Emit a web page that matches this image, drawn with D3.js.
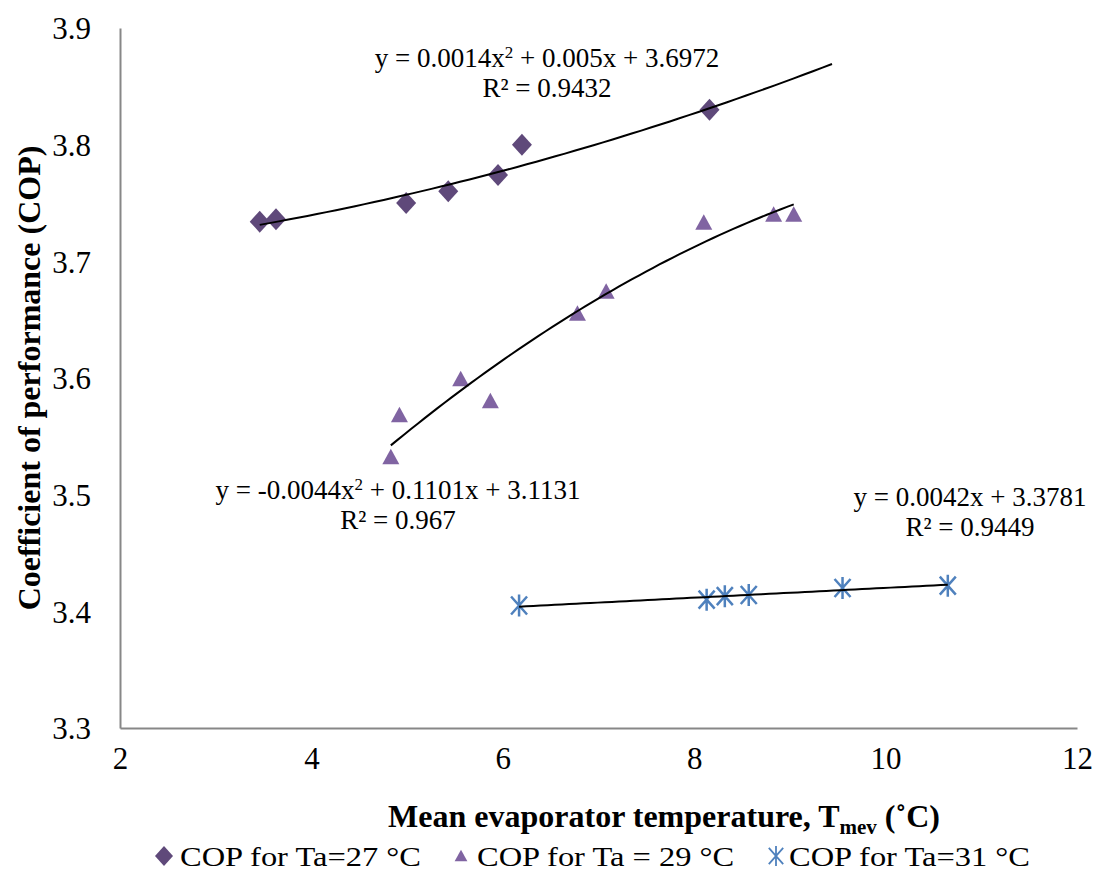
<!DOCTYPE html>
<html>
<head>
<meta charset="utf-8">
<script src="https://cdn.jsdelivr.net/npm/d3@7"></script>
<style>
  body { margin: 0; background: #fff; }
  text { font-family: "Liberation Serif", "Times New Roman", serif; fill: #000; }
</style>
</head>
<body>
<div id="container"></div>
<script>
'use strict';

// --- data ---
var temp27 = [3.46, 3.63, 4.99, 5.43, 5.95, 6.20, 8.16];
var cop27  = [3.734, 3.736, 3.750, 3.760, 3.774, 3.800, 3.830];

var temp29 = [4.83, 4.92, 5.56, 5.87, 6.78, 7.08, 8.10, 8.83, 9.04];
var cop29  = [3.532, 3.568, 3.599, 3.580, 3.655, 3.674, 3.733, 3.740, 3.740];

var temp31 = [6.17, 8.13, 8.32, 8.57, 9.55, 10.65];
var cop31  = [3.405, 3.410, 3.413, 3.414, 3.420, 3.422];

// trendline coefficients (a x^2 + b x + c) and drawn x range
var fit27 = [0.0014, 0.005, 3.6972],   fitRange27 = [3.46, 9.44];
var fit29 = [-0.0044, 0.1101, 3.1131], fitRange29 = [4.83, 9.04];
var fit31 = [0, 0.0042, 3.3781],       fitRange31 = [6.17, 10.65];

var xTicks = [2, 4, 6, 8, 10, 12];
var yTicks = [3.3, 3.4, 3.5, 3.6, 3.7, 3.8, 3.9];

var legendNames = ['COP for Ta=27 °C', 'COP for Ta = 29 °C', 'COP for Ta=31 °C'];

// --- chart ---
var chart = {};
chart.width = 1103;
chart.height = 873;
chart.margin = {top: 28, right: 26, bottom: 145, left: 120};

var svg = d3.select('#container').append('svg')
  .attr('width', chart.width)
  .attr('height', chart.height);

var x = d3.scaleLinear().domain([2, 12])
  .range([chart.margin.left, chart.width - chart.margin.right]);
var y = d3.scaleLinear().domain([3.3, 3.9])
  .range([chart.height - chart.margin.bottom, chart.margin.top]);

/* ------- AXES -------*/
var xAxis = svg.append('g')
  .attr('transform', 'translate(0,' + y(3.3) + ')')
  .call(d3.axisBottom(x).tickValues(xTicks).tickSize(0).tickPadding(22));
var yAxis = svg.append('g')
  .attr('transform', 'translate(' + x(2) + ',0)')
  .call(d3.axisLeft(y).tickValues(yTicks).tickSize(0).tickPadding(29).tickFormat(d3.format('.1f')));

[xAxis, yAxis].forEach(function(a) {
  a.attr('font-family', null).attr('font-size', null);
  a.select('.domain').attr('stroke', '#878787').attr('stroke-width', 2);
  a.selectAll('text')
    .style('font-family', '"Liberation Serif", serif')
    .style('font-size', '31px')
    .attr('fill', '#000');
});
yAxis.selectAll('text').attr('dy', '0.35em');
xAxis.selectAll('text').attr('dy', '0.62em');

/* ------- TRENDLINES -------*/
function curve(fit, range) {
  var pts = d3.range(0, 61).map(function(i) {
    var t = range[0] + (range[1] - range[0]) * i / 60;
    return [t, fit[0] * t * t + fit[1] * t + fit[2]];
  });
  return d3.line().x(function(d) { return x(d[0]); }).y(function(d) { return y(d[1]); })(pts);
}

var lines = svg.append('g').attr('class', 'lines');
[[fit27, fitRange27], [fit29, fitRange29], [fit31, fitRange31]].forEach(function(f) {
  lines.append('path')
    .attr('d', curve(f[0], f[1]))
    .attr('fill', 'none')
    .attr('stroke', '#000')
    .attr('stroke-width', 2);
});

/* ------- MARKERS -------*/
var diamond = 'M0,-11L10,0L0,11L-10,0Z';
var triangle = 'M0,-8.5L8.5,7L-8.5,7Z';
var star = 'M0,-11V11M-8,-9L8,9M-8,9L8,-9';

function drawMarkers(xs, ys, shape, color, isStroke) {
  var g = svg.append('g');
  g.selectAll('path').data(xs).enter().append('path')
    .attr('transform', function(d, i) { return 'translate(' + x(d) + ',' + y(ys[i]) + ')'; })
    .attr('d', shape)
    .attr('fill', isStroke ? 'none' : color)
    .attr('stroke', isStroke ? color : 'none')
    .attr('stroke-width', isStroke ? 2.5 : 0);
}
drawMarkers(temp27, cop27, diamond, '#5F497A', false);
drawMarkers(temp29, cop29, triangle, '#8064A2', false);
drawMarkers(temp31, cop31, star, '#4F81BD', true);
lines.raise();

/* ------- EQUATION LABELS -------*/
function eqLabel(cx, cy, parts, r2) {
  var t = svg.append('text').attr('x', cx).attr('y', cy)
    .attr('text-anchor', 'middle').style('font-size', '27px');
  parts.forEach(function(p) {
    var s = t.append('tspan').text(p[0]);
    if (p[1]) s.attr('baseline-shift', 'super').style('font-size', '17px');
  });
  svg.append('text').attr('x', cx).attr('y', cy + 30)
    .attr('text-anchor', 'middle').style('font-size', '27px').text(r2);
}
eqLabel(547, 67, [['y = 0.0014x'], ['2', true], [' + 0.005x + 3.6972']], 'R² = 0.9432');
eqLabel(398, 499, [['y = -0.0044x'], ['2', true], [' + 0.1101x + 3.1131']], 'R² = 0.967');
eqLabel(970, 506, [['y = 0.0042x + 3.3781']], 'R² = 0.9449');

/* ------- AXIS TITLES -------*/
svg.append('text')
  .attr('transform', 'translate(40,' + y(3.6) + ') rotate(-90)')
  .attr('text-anchor', 'middle')
  .style('font-size', '32px').style('font-weight', 'bold')
  .text('Coefficient of performance (COP)');

var xt = svg.append('text')
  .attr('x', 664).attr('y', 827)
  .attr('text-anchor', 'middle')
  .style('font-size', '32px').style('font-weight', 'bold');
xt.append('tspan').text('Mean evaporator temperature, T');
xt.append('tspan').text('mev').attr('dy', 7).style('font-size', '21px');
xt.append('tspan').text(' (˚C)').attr('dy', -7);

/* ------- LEGEND -------*/
var legendX = [164, 461, 776];
var legendShapes = [[diamond, '#5F497A', false], [triangle, '#8064A2', false], [star, '#4F81BD', true]];
legendNames.forEach(function(name, i) {
  var g = svg.append('g').attr('transform', 'translate(' + legendX[i] + ',856)');
  var s = legendShapes[i];
  g.append('path').attr('d', s[0])
    .attr('transform', i === 1 ? 'scale(0.75)' : 'scale(0.9)')
    .attr('fill', s[2] ? 'none' : s[1])
    .attr('stroke', s[2] ? s[1] : 'none')
    .attr('stroke-width', s[2] ? 2 : 0);
  g.append('text')
    .attr('transform', 'translate(' + (i === 2 ? 13 : 16) + ',0) scale(1.16,1)')
    .attr('dy', '0.35em')
    .style('font-size', '28px').text(name);
});
</script>
</body>
</html>
